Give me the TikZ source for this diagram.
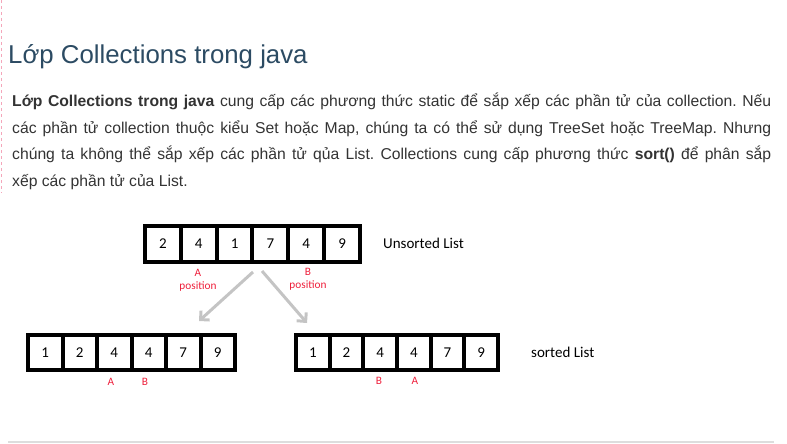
\documentclass[tikz,border=0pt]{standalone}
\usepackage{fontspec}
\setmainfont{Liberation Sans}
\newfontfamily\carlito{Carlito}
\usetikzlibrary{arrows.meta}
\frenchspacing
\definecolor{titlec}{HTML}{2C4B63}
\definecolor{bodyc}{HTML}{333333}
\definecolor{redc}{HTML}{EE1F3B}
\definecolor{arrowc}{HTML}{C4C4C4}
\definecolor{pinkc}{HTML}{F4A6BA}
\definecolor{rulec}{HTML}{DDDDDD}
\tikzset{
  cellbox/.style={draw=black, line width=4pt, inner sep=0pt, font=\carlito\fontsize{15}{16}\selectfont},
  redlabel/.style={text=redc, font=\carlito\fontsize{11.3}{13}\selectfont, inner sep=0pt, align=center},
  listlabel/.style={anchor=west, inner sep=0pt, font=\carlito\fontsize{15}{16}\selectfont},
  grayarrow/.style={draw=arrowc, line width=3pt, -{Straight Barb[angle=90:6pt 1]}},
  bodyline/.style={anchor=base west, inner sep=0pt, text=bodyc, font=\fontsize{15.7}{18}\selectfont}
}
\begin{document}
\begin{tikzpicture}[x=1pt,y=-1pt]
\useasboundingbox (0,0) rectangle (787,444);
% page decorations
\draw[pinkc, line width=1pt, dash pattern=on 3pt off 3pt] (1,0) -- (1,193);
\draw[rulec, line width=1.2pt] (8,442) -- (774,442);
% title
\node[anchor=base west, inner sep=0pt, text=titlec, font=\fontsize{25.8}{30}\selectfont] (title) at (8,63.5) {Lớp Collections trong java};
% paragraph
\node[bodyline] (l1) at (12,106.5) {\hbox to 759pt{\textbf{Lớp Collections trong java} cung cấp các phương thức static để sắp xếp các phần tử của collection. Nếu}};
\node[bodyline] (l2) at (12,133) {\hbox to 759pt{các phần tử collection thuộc kiểu Set hoặc Map, chúng ta có thể sử dụng TreeSet hoặc TreeMap. Nhưng}};
\node[bodyline] (l3) at (12,159.5) {\hbox to 759pt{chúng ta không thể sắp xếp các phần tử qủa List. Collections cung cấp phương thức \textbf{sort()} để phân sắp}};
\node[bodyline] (l4) at (12,186) {xếp các phần tử của List.};
% unsorted list
\foreach \v [count=\i] in {2,4,1,7,4,9}{
  \node[cellbox, minimum width=35.83pt, minimum height=36pt] (u\i) at ({145+35.83*(\i-0.5)},244) {\v};
}
\node[listlabel] (ulab) at (383,243) {Unsorted List};
\node[redlabel] (apos) at (198,280.5) {A\\position};
\node[redlabel] (bpos) at (308,279) {B\\position};
% sorted lists
\foreach \v [count=\i] in {1,2,4,4,7,9}{
  \node[cellbox, minimum width=34.5pt, minimum height=35pt] (p\i) at ({28+34.5*(\i-0.5)},352.5) {\v};
  \node[cellbox, minimum width=33.67pt, minimum height=35pt] (q\i) at ({296+33.67*(\i-0.5)},352.5) {\v};
}
\node[listlabel] (slab) at (531,352) {sorted List};
\node[redlabel] (pa) at (111,382) {A};
\node[redlabel] (pb) at (145,382) {B};
\node[redlabel] (qb) at (379,381) {B};
\node[redlabel] (qa) at (415,381) {A};
% arrows
\coordinate (s1) at (253,272);
\coordinate (t1) at (199,321);
\coordinate (s2) at (262,271);
\coordinate (t2) at (307,323);
\draw[grayarrow] (s1) -- (t1);
\draw[grayarrow] (s2) -- (t2);
\end{tikzpicture}
\end{document}
